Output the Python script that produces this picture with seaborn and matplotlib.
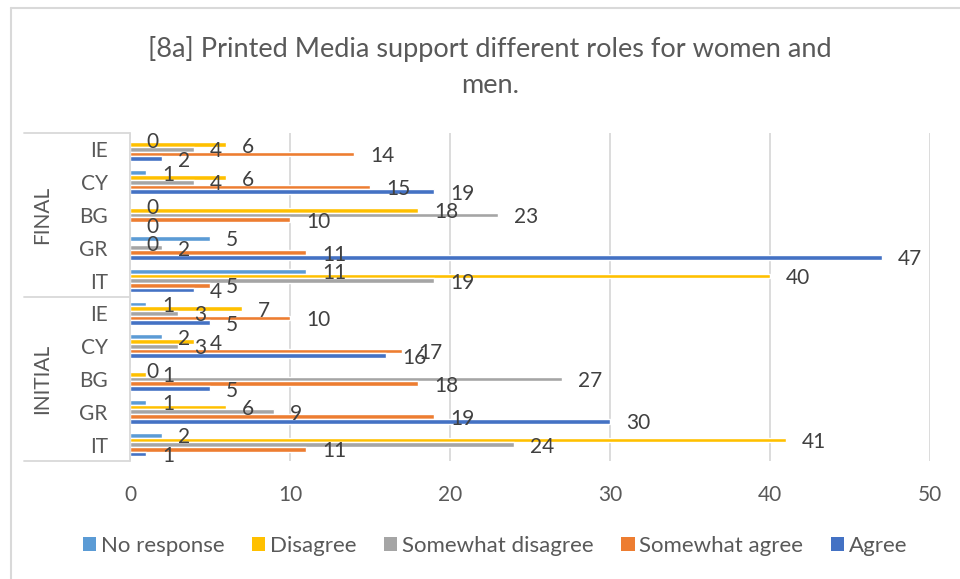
import matplotlib
matplotlib.use("Agg")
import matplotlib.pyplot as plt
from matplotlib.lines import Line2D
from matplotlib.patches import Patch
import pandas as pd
import seaborn as sns

# Categories, listed top to bottom
phases = ["FINAL"] * 5 + ["INITIAL"] * 5
countries = ["IE", "CY", "BG", "GR", "IT", "IE", "CY", "BG", "GR", "IT"]

series = ["No response", "Disagree", "Somewhat disagree", "Somewhat agree", "Agree"]
colors = ["#5B9BD5", "#FFC000", "#A5A5A5", "#ED7D31", "#4472C4"]

no_response = [0, 1, 0, 5, 11, 1, 2, 0, 1, 2]
disagree = [6, 6, 18, 0, 40, 7, 4, 1, 6, 41]
somewhat_disagree = [4, 4, 23, 2, 19, 3, 3, 27, 9, 24]
somewhat_agree = [14, 15, 10, 11, 5, 10, 17, 18, 19, 11]
agree = [2, 19, 0, 47, 4, 5, 16, 5, 30, 1]

x_ticks = [0, 10, 20, 30, 40, 50]
title = "[8a] Printed Media support different roles for women and\nmen."

values = [no_response, disagree, somewhat_disagree, somewhat_agree, agree]
keys = [f"{p} {c}" for p, c in zip(phases, countries)]
rows = []
for name, vals in zip(series, values):
    for k, v in zip(keys, vals):
        rows.append({"cat": k, "series": name, "value": v})
df = pd.DataFrame(rows)

sns.set_theme(style="white")
plt.rcParams["font.family"] = ["Lato", "DejaVu Sans"]

TEXT = "#595959"
LABEL = "#404040"
GRID = "#D9D9D9"

W, H = 960, 579
fig = plt.figure(figsize=(W / 100, H / 100), dpi=100)
ax = fig.add_axes([130 / W, 1 - 461 / H, 800 / W, 328 / H])

sns.barplot(data=df, x="value", y="cat", hue="series", order=keys,
            hue_order=series, palette=colors, orient="h", width=0.72,
            errorbar=None, saturation=1, ax=ax)

ax.set_xlim(0, 50)
ax.set_xticks(x_ticks)
ax.set_xticklabels([str(t) for t in x_ticks])
ax.set_yticks(range(len(keys)))
ax.set_yticklabels(countries)
ax.set_xlabel("")
ax.set_ylabel("")
ax.tick_params(axis="x", length=0, pad=17, labelsize=15, labelcolor=TEXT)
ax.tick_params(axis="y", length=0, pad=16, labelsize=15, labelcolor=TEXT)
for s in ax.spines.values():
    s.set_visible(False)
ax.grid(axis="x", color=GRID, linewidth=1.3)
ax.grid(axis="y", visible=False)
ax.set_axisbelow(True)
if ax.legend_ is not None:
    ax.legend_.remove()

# value labels at the end of each bar
for cont in ax.containers:
    anns = ax.bar_label(cont, fmt="%d", padding=11.5, fontsize=15, color=LABEL)
    for a in anns:
        a.xyann = (11.5, -1.5)

# multi-level category box on the left
tr = ax.transAxes
x0 = (24 - 130) / 800
for yy in (1.0, 0.5, 0.0):
    ax.add_line(Line2D([x0, 0], [yy, yy], transform=tr, color=GRID,
                       linewidth=1.3, clip_on=False))
ax.add_line(Line2D([0, 0], [0, 1], transform=tr, color=GRID,
                   linewidth=1.3, clip_on=False))
gx = (42 - 130) / 800
ax.text(gx, 0.75, "FINAL", transform=tr, rotation=90, ha="center",
        va="center", fontsize=15, color=TEXT)
ax.text(gx, 0.25, "INITIAL", transform=tr, rotation=90, ha="center",
        va="center", fontsize=15, color=TEXT)

# title
fig.text(490 / W, 1 - 67 / H, title, ha="center", va="center",
         fontsize=19.5, color=TEXT, linespacing=1.55)

# legend
handles = [Patch(facecolor=c, edgecolor="none", label=s)
           for s, c in zip(series, colors)]
fig.legend(handles=handles, loc="center", bbox_to_anchor=(495 / W, 1 - 546 / H),
           ncol=5, frameon=False, fontsize=16, handlelength=0.6,
           handleheight=0.6, handletextpad=0.2, columnspacing=1.25,
           labelcolor=TEXT)

# chart-area border
fig.add_artist(Line2D([11 / W, 11 / W], [0, 1 - 8 / H], transform=fig.transFigure,
                      color=GRID, linewidth=1.5))
fig.add_artist(Line2D([11 / W, 1], [1 - 8 / H, 1 - 8 / H], transform=fig.transFigure,
                      color=GRID, linewidth=1.5))

fig.savefig("out.png", dpi=100)
